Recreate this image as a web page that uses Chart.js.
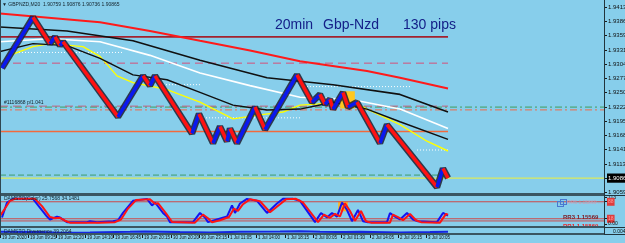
<!DOCTYPE html>
<html>
<head>
<meta charset="utf-8">
<script src="https://cdn.jsdelivr.net/npm/chart.js@4.4.0/dist/chart.umd.min.js"></script>
<style>
  html, body { margin: 0; padding: 0; width: 625px; height: 243px; overflow: hidden; background: #87ceeb; }
  body { position: relative; }
  canvas { position: absolute; left: 0; z-index: 1; }
  .sep { position: absolute; z-index: 3; background: #3a5662; }
</style>
</head>
<body>
<canvas id="main" width="625" height="198" style="top:0"></canvas>
<canvas id="stoch" width="625" height="36" style="top:193px"></canvas>
<canvas id="div" width="625" height="17" style="top:226px"></canvas>
<div class="sep" style="left:0;top:193px;width:604px;height:3px"></div>
<div class="sep" style="left:0;top:226px;width:604px;height:2px"></div>
<div class="sep" style="left:0;top:233px;width:604px;height:2px"></div>
<div class="sep" style="left:604px;top:195px;width:21px;height:1px;background:#22343c"></div>
<div class="sep" style="left:604px;top:227px;width:21px;height:1px;background:#22343c"></div>
<div class="sep" style="left:604px;top:234px;width:21px;height:1px;background:#22343c"></div>
<div class="sep" style="left:0;top:0;width:1px;height:235px;background:#2f4650"></div>
<div class="sep" style="left:604px;top:0;width:1px;height:235px;background:#22343c"></div>
<script>
"use strict";

// ── Data (x = bar index, 20 min renko bricks) ────────────────────────────────

const priceTickLabels = ["1.94135", "1.93865", "1.93590", "1.93315", "1.93045", "1.92770", "1.92500",
  "1.92225", "1.91955", "1.91680", "1.91410", "1.91135", "1.90865", "1.90590"];
const lastPrice = 1.90865;

const dateTickBars = [0, 14, 28, 42.5, 56.5, 71, 85.5, 99.5, 114, 128, 142.5, 156.5, 170.5, 185, 199, 213];
const dateTickLabels = ["19 Jun 2020", "19 Jun 09:25", "19 Jun 12:20", "19 Jun 14:10", "19 Jun 16:45",
  "19 Jun 20:15", "30 Jun 20:20", "30 Jun 23:15", "1 Jul 11:05", "1 Jul 14:00", "1 Jul 18:15",
  "2 Jul 00:05", "2 Jul 01:30", "2 Jul 14:05", "2 Jul 16:15", "3 Jul 10:05"];

// turning points of the brick path
const pricePath = [[1, 1.92972], [16.5, 1.93944], [25, 1.93439], [27.5, 1.93570], [30, 1.93402],
  [31.5, 1.93477], [59, 1.92038], [71.5, 1.92823], [75, 1.92636], [77.5, 1.92823], [96, 1.91720],
  [99.5, 1.92094], [106.5, 1.91533], [110, 1.91851], [113.5, 1.91571], [115, 1.91814], [118.5, 1.91533],
  [127.5, 1.92225], [132.5, 1.91795], [148.5, 1.92841], [156, 1.92318], [160, 1.92468], [162.5, 1.92281],
  [165, 1.92374], [166.5, 1.92187], [171.5, 1.92505], [174, 1.92225], [178.5, 1.92318], [190, 1.91533],
  [193.5, 1.91888], [218.5, 1.90692], [221.5, 1.91048], [224, 1.90865]];

const maRed = [[0, 1.94019], [50, 1.93850], [75, 1.93682], [100, 1.93495], [125, 1.93309], [150, 1.93103],
  [183.5, 1.92916], [200, 1.92785], [224, 1.92580]];
const maBlackSlow = [[0, 1.93757], [33.5, 1.93682], [66.5, 1.93495], [100, 1.93122], [133.5, 1.92785],
  [166.5, 1.92654], [200, 1.92468], [224, 1.92131]];
const maWhite = [[0, 1.93477], [25, 1.93533], [50, 1.93477], [75, 1.93215], [100, 1.92879], [125, 1.92636],
  [150, 1.92412], [175, 1.92374], [200, 1.92187], [224, 1.91814]];
const maBlackFast = [[0, 1.93290], [16.5, 1.93439], [33.5, 1.93402], [50, 1.93159], [66.5, 1.92841],
  [83.5, 1.92748], [100, 1.92505], [116.5, 1.92262], [133.5, 1.92169], [150, 1.92187], [166.5, 1.92318],
  [183.5, 1.92187], [200, 1.91944], [224, 1.91608]];
const maYellow = [[3.5, 1.93196], [16.5, 1.93383], [25, 1.93439], [41.5, 1.93383], [50, 1.93196],
  [58.5, 1.92823], [66.5, 1.92692], [83.5, 1.92561], [100, 1.92318], [116.5, 1.92000], [130, 1.92075],
  [141.5, 1.92131], [150, 1.92262], [158.5, 1.92281], [175, 1.92356], [183.5, 1.92187], [200, 1.91888],
  [213.5, 1.91571], [224, 1.91384]];

// dotted pivot segments: [from bar, to bar, price]
const dottedSegs = [[5, 61.5, 1.93271], [80, 100, 1.92654], [100, 150, 1.92019], [153.5, 205, 1.92617],
  [208.5, 224, 1.91403]];

const levelMaroon = 1.93570;
const levelDashUpper = 1.93066;
const levelDashMid = 1.92243;
const levelGreenDashDot = 1.92225;
const levelOrangeDashDot = 1.92171;
const levelOrange = 1.91758;
const levelGreenDash = 1.90923;
const highlightBox = { x: 173.75, y: [1.92206, 1.92524] };

const stochK = [[1, 23], [3.5, 85], [6.5, 100], [16.5, 100], [23.5, 27], [25, 15], [28.5, 27], [30, 23],
  [33.5, 4], [43.5, 4], [45, 8], [48.5, 4], [56.5, 8], [59, 12], [61.5, 42], [66.5, 92], [73.5, 100],
  [76, 73], [77.5, 85], [81.5, 42], [83.5, 27], [85, 4], [96.5, 4], [100, 42], [102.5, 23], [104, 4],
  [108.5, 15], [113.5, 27], [116, 73], [117.5, 42], [120, 81], [123.5, 100], [128.5, 92], [133.5, 42],
  [138.5, 81], [141.5, 100], [146.5, 100], [150, 92], [157.5, 4], [160.5, 42], [163.5, 23], [166, 42],
  [168.5, 27], [171, 85], [173.5, 54], [176, 8], [179, 54], [181.5, 8], [184, 4], [193.5, 4], [195, 42],
  [197.5, 27], [200, 15], [203.5, 42], [206.5, 15], [209, 8], [218.5, 4], [221.5, 42], [224, 31]];
const stochD = [[0, 30], [2.5, 60], [5, 92], [7.5, 100], [17.5, 100], [21, 70], [25, 25], [27.5, 20],
  [30, 22], [32.5, 10], [35, 2], [45, 2], [50, 2], [57.5, 4], [60.5, 15], [64, 60], [68, 95], [75, 98],
  [77.5, 80], [79, 82], [83, 40], [86, 5], [97.5, 2], [101.5, 35], [104, 20], [106, 4], [110, 12],
  [114.5, 25], [117, 60], [119, 50], [121.5, 78], [125, 98], [130, 90], [135, 45], [140, 78], [143, 98],
  [148, 100], [151.5, 85], [159, 4], [162, 35], [165, 22], [167.5, 38], [170, 28], [172.5, 82], [175, 50],
  [177.5, 10], [180.5, 50], [183, 8], [185.5, 2], [195, 2], [196.5, 35], [199, 25], [201.5, 12], [205, 38],
  [208, 12], [210.5, 4], [220, 2], [223, 38], [224, 35]];
const stochLevels = [88, 18, 9];
const stochBox = { x: 171.5, y: [50, 88] };
const stochAxisValues = [104, 88, 18, -4];
const stochAxisLabels = ["113", "88", "18", "0.00"];

const divLine = [[0, 3], [20, 2], [30, 0], [45, 1], [65, 3], [72.5, 4], [90, 2], [105, 1], [120, 3],
  [140, 4], [150, 5], [160, 3], [172.5, 2], [180, 3], [200, 1], [215, 2], [224, 3]];
const divAxisLabel = "0.0046";

// ── Helpers ──────────────────────────────────────────────────────────────────

const FONT = "Liberation Sans";
const pts = arr => arr.map(([x, y]) => ({ x, y }));
const hline = (y, x0, x1) => [{ x: x0, y }, { x: x1, y }];
const LAST_BAR = 224;
const AXIS_BAR = 302;

function lineDs(data, color, width, dash) {
  return { type: "line", data, borderColor: color, borderWidth: width, borderDash: dash || [],
    pointRadius: 0, tension: 0, fill: false };
}

function baseOptions(padding) {
  return {
    responsive: false, animation: false, devicePixelRatio: 1, events: [],
    layout: { padding, autoPadding: false },
    plugins: { legend: { display: false }, tooltip: { enabled: false } },
    elements: { point: { radius: 0 }, line: { borderJoinStyle: "bevel" } },
  };
}

function barAxis(extra) {
  return Object.assign({ type: "linear", min: 0, max: AXIS_BAR, offset: false, grid: { offset: false } }, extra);
}

function rightAxis(extra) {
  return Object.assign({
    position: "right",
    afterFit: s => { s.width = 21; },
    grid: { drawOnChartArea: false, tickLength: 3, tickColor: "#1a1a1a" },
    border: { display: true, color: "#22343c", width: 1 },
  }, extra);
}

// ── Main price window ────────────────────────────────────────────────────────

const mainText = {
  id: "mainText",
  afterDraw(chart) {
    const c = chart.ctx;
    c.save();
    c.fillStyle = "#14222a";
    c.font = `5px "${FONT}"`;
    c.textBaseline = "middle";
    c.fillText("\u25BC GBPNZD,M20  1.90759 1.90876 1.90736 1.90865", 2, 5);
    c.fillText("#1116868 p/1.041", 4, 103);
    c.fillStyle = "#142088";
    c.font = `14px "${FONT}"`;
    c.textBaseline = "alphabetic";
    c.fillText("20min", 275, 29);
    c.fillText("Gbp-Nzd", 323, 29);
    c.fillText("130 pips", 403, 29);
    c.restore();
  },
};

const upDown = c => (c.p1.parsed.y > c.p0.parsed.y ? "#0a18f0" : "#ff1212");

new Chart(document.getElementById("main"), {
  type: "line",
  data: {
    datasets: [
      Object.assign(lineDs(pts(pricePath), "#ff1212", 3.5), { segment: { borderColor: upDown } }),
      lineDs(pts(pricePath), "rgba(30,30,48,0.85)", 6.5),
      { type: "bar", data: [highlightBox], backgroundColor: "#ffc81e", barThickness: 14, grouped: false },
      lineDs(pts(maRed), "#ff1a1a", 2),
      lineDs(pts(maBlackSlow), "#101010", 1.6),
      lineDs(pts(maWhite), "#ffffff", 1.6),
      lineDs(pts(maBlackFast), "#101010", 1.4),
      lineDs(pts(maYellow), "#ffff00", 1.4),
      ...dottedSegs.map(([a, b, y]) => lineDs(hline(y, a, b), "#ffffff", 1, [1, 2])),
      lineDs(hline(levelMaroon, 0, LAST_BAR), "#a3222e", 1.6),
      lineDs(hline(levelDashUpper, 0, LAST_BAR), "#d4507a", 1, [8, 5]),
      lineDs(hline(levelDashMid, 0, LAST_BAR), "#c0607e", 1, [8, 5]),
      lineDs(hline(levelGreenDashDot, 0, AXIS_BAR), "#3f9e5e", 1, [7, 3, 2, 3]),
      lineDs(hline(levelOrangeDashDot, 0, AXIS_BAR), "#f06a48", 1, [7, 3, 2, 3]),
      lineDs(hline(levelOrange, 0, LAST_BAR), "#f26a3c", 1.6),
      lineDs(hline(levelGreenDash, 0, LAST_BAR), "#3f9e6a", 1, [6, 3]),
      lineDs(hline(lastPrice, 0, AXIS_BAR), "#f0f03a", 1),
    ],
  },
  options: Object.assign(baseOptions({ top: 0, bottom: 5, left: 0, right: 0 }), {
    scales: {
      x: barAxis({ display: false }),
      y: rightAxis({
        min: 1.90580, max: 1.94187,
        afterBuildTicks: s => { s.ticks = priceTickLabels.map(t => ({ value: +t })); },
        ticks: {
          autoSkip: false, padding: 1,
          font: { family: FONT, size: 6 },
          color: c => (c.tick && c.tick.value === lastPrice ? "#ffffff" : "#101010"),
          showLabelBackdrop: c => !!(c.tick && c.tick.value === lastPrice),
          backdropColor: "#000000",
          backdropPadding: { top: 1, bottom: 1, left: 1, right: 2 },
          callback: (v, i) => priceTickLabels[i],
        },
      }),
    },
  }),
  plugins: [mainText],
});

// ── Stochastic window ────────────────────────────────────────────────────────

const stochText = {
  id: "stochText",
  afterDraw(chart) {
    const c = chart.ctx;
    c.save();
    c.textBaseline = "middle";
    c.font = `5px "${FONT}"`;
    c.fillStyle = "#14222a";
    c.fillText("DAMSTO(Color) 25.7568 34.1481", 4, 6);
    c.strokeStyle = "#4a78d0";
    c.lineWidth = 1;
    c.strokeRect(557.5, 8.5, 6, 5);
    c.strokeRect(560.5, 6.5, 6, 5);
    c.fillStyle = "#c8a0b8";
    c.fillText("RR5 1.15869 ....", 567, 10);
    c.font = `bold 6px "${FONT}"`;
    c.fillStyle = "#7c1c24";
    c.fillText("RR3 1.15569", 563, 24);
    c.fillStyle = "#e82828";
    c.fillText("RR1 1.15869", 563, 33);
    c.restore();
  },
};

const levelTick = c => !!(c.tick && (c.tick.value === 88 || c.tick.value === 18));

new Chart(document.getElementById("stoch"), {
  type: "line",
  data: {
    datasets: [
      lineDs(pts(stochD), "#ff1414", 2),
      lineDs(pts(stochK), "#1414f0", 2),
      ...stochLevels.map(v => lineDs(hline(v, 0, AXIS_BAR), "#cc4a4a", 1)),
      { type: "bar", data: [stochBox], backgroundColor: "#ffb41e", barThickness: 9, grouped: false },
    ],
  },
  options: Object.assign(baseOptions({ top: 3, bottom: 3, left: 0, right: 0 }), {
    scales: {
      x: barAxis({ display: false }),
      y: rightAxis({
        min: -7.7, max: 107.7,
        afterBuildTicks: s => { s.ticks = stochAxisValues.map(v => ({ value: v })); },
        ticks: {
          autoSkip: false, padding: 1,
          font: { family: FONT, size: 5 },
          color: c => (levelTick(c) ? "#ff9a9a" : "#101010"),
          showLabelBackdrop: levelTick,
          backdropColor: "#e03c3c",
          backdropPadding: { top: 1, bottom: 1, left: 1, right: 1 },
          callback: (v, i) => stochAxisLabels[i],
        },
      }),
    },
  }),
  plugins: [stochText],
});

// ── Lower window + time axis ────────────────────────────────────────────────

const divText = {
  id: "divText",
  afterDraw(chart) {
    const c = chart.ctx;
    c.save();
    c.textBaseline = "middle";
    c.font = `5px "${FONT}"`;
    c.fillStyle = "#14222a";
    c.fillText("DAMSTO Divergence 39.2064", 4, 6);
    c.restore();
  },
};

new Chart(document.getElementById("div"), {
  type: "line",
  data: { datasets: [lineDs(pts(divLine), "#1428e0", 2)] },
  options: Object.assign(baseOptions({ top: 2, bottom: 0, left: 0, right: 0 }), {
    scales: {
      x: barAxis({
        position: "bottom",
        afterFit: s => { s.height = 10; },
        afterBuildTicks: s => { s.ticks = dateTickBars.map(v => ({ value: v })); },
        grid: { drawOnChartArea: false, tickLength: 5, tickColor: "#1a1a1a" },
        border: { display: false },
        ticks: {
          autoSkip: false, maxRotation: 0, align: "start", labelOffset: 2, padding: -3,
          font: { family: FONT, size: 4.5 }, color: "#101010",
          callback: (v, i) => dateTickLabels[i],
        },
      }),
      y: rightAxis({
        min: -1, max: 9,
        afterBuildTicks: s => { s.ticks = [{ value: 3 }]; },
        grid: { display: false },
        ticks: { autoSkip: false, padding: 1, font: { family: FONT, size: 5 }, color: "#101010",
          callback: () => divAxisLabel },
      }),
    },
  }),
  plugins: [divText],
});
</script>
</body>
</html>
